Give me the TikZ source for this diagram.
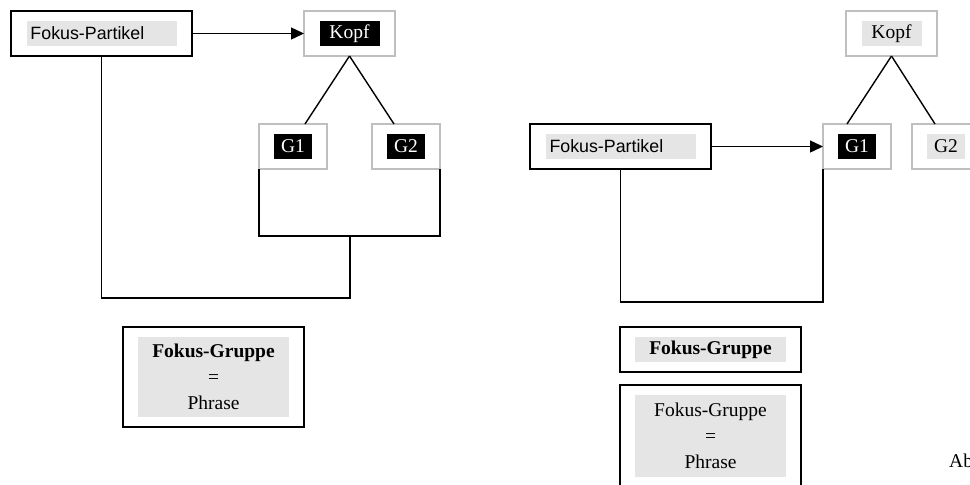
\documentclass[tikz,border=0pt]{standalone}
\usepackage{fontspec}
\setmainfont{Liberation Serif}
\setsansfont{Liberation Sans}
\usetikzlibrary{positioning, arrows.meta}

\begin{document}
\begin{tikzpicture}[
		x=1pt, y=-1pt,
		font=\fontsize{19.5}{26}\selectfont,
		frame/.style={draw, line width=1.8pt, rectangle, minimum width=181pt, minimum height=45pt, inner sep=0pt, outer sep=0pt},
		gframe/.style={draw=gray!50, line width=1.8pt, rectangle, minimum width=68pt, minimum height=45pt, inner sep=0pt, outer sep=0pt},
		glabel/.style={fill=gray!20, inner sep=0pt, minimum height=25pt},
		blabel/.style={fill=black, text=white, inner sep=0pt, minimum height=25pt},
		partlabel/.style={glabel, font=\sffamily\fontsize{17.8}{20}\selectfont, text width=142pt, align=left, inner xsep=4pt},
		line/.style={line width=1.4pt},
		arrow/.style={line, -{Triangle[length=13pt, width=12pt]}}
		]
		
		\useasboundingbox (0,0) rectangle (970,485);
		\clip (0,0) rectangle (970,485);
		
		% Left: particle attached to the whole group
		\node[frame] (fpL) at (101.5,33.5) {};
		\node[partlabel] (fpL-lab) at (fpL) {Fokus-Partikel};
		
		\node[gframe, minimum width=91pt, right=112pt of fpL] (kopfL) {};
		\node[blabel, minimum width=60pt] (kopfL-lab) at (kopfL) {Kopf};
		
		\node[gframe] (g1L) at (293,146.5) {};
		\node[blabel, minimum width=38pt] (g1L-lab) at (g1L) {G1};
		
		\node[gframe, right=45pt of g1L] (g2L) {};
		\node[blabel, minimum width=38pt] (g2L-lab) at (g2L) {G2};
		
		\node[frame, minimum height=100pt] (fgL) at (213.5,377) {};
		\node[glabel, minimum width=151pt, minimum height=80pt, align=center] (fgL-lab) at (fgL) {\textbf{Fokus-Gruppe}\\=\\Phrase};
		
		\coordinate (joinL) at (350,236);
		\coordinate (botL) at (350,298);
		
		\draw[arrow] (fpL) -- (kopfL);
		\draw[line] (kopfL.south) -- ([xshift=12pt]g1L.north);
		\draw[line] (kopfL.south) -- ([xshift=-12pt]g2L.north);
		\draw[line] (g1L.south west) |- (joinL) -| (g2L.south east);
		\draw[line] (fpL.south) |- (botL) -- (joinL);
		
		% Right: particle attached to G1 only
		\node[gframe, minimum width=91pt] (kopfR) at (891.5,33.5) {};
		\node[glabel, minimum width=60pt] (kopfR-lab) at (kopfR) {Kopf};
		
		\node[frame] (fpR) at (620.5,146.5) {};
		\node[partlabel] (fpR-lab) at (fpR) {Fokus-Partikel};
		
		\node[gframe, right=112pt of fpR] (g1R) {};
		\node[blabel, minimum width=38pt] (g1R-lab) at (g1R) {G1};
		
		\node[gframe, right=21pt of g1R] (g2R) {};
		\node[glabel, minimum width=38pt] (g2R-lab) at (g2R) {G2};
		
		\node[frame] (fgR) at (710.5,349.5) {};
		\node[glabel, minimum width=151pt] (fgR-lab) at (fgR) {\textbf{Fokus-Gruppe}};
		
		\node[frame, minimum height=102pt] (phR) at (710.5,436) {};
		\node[glabel, minimum width=151pt, minimum height=82pt, align=center] (phR-lab) at (phR) {Fokus-Gruppe\\=\\Phrase};
		
		\node[anchor=base west, inner sep=0pt] (abb) at (949,467) {Abb.};
		
		\draw[arrow] (fpR) -- (g1R);
		\draw[line] (kopfR.south) -- ([xshift=-10pt]g1R.north);
		\draw[line] (kopfR.south) -- ([xshift=-11pt]g2R.north);
		\draw[line] (fpR.south) |- ([yshift=-133pt]g1R.south west) -- (g1R.south west);
		
	\end{tikzpicture}
\end{document}
